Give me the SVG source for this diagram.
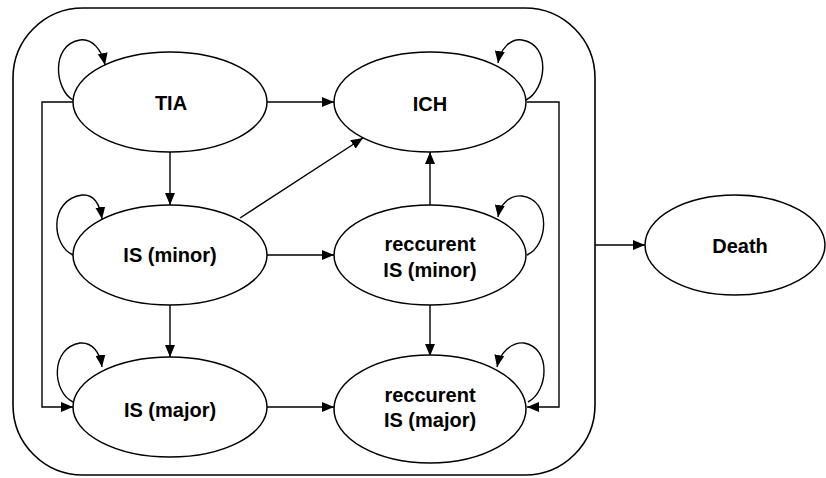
<svg xmlns="http://www.w3.org/2000/svg" width="826" height="478" viewBox="0 0 826 478">
<defs>
<marker id="ah" markerUnits="userSpaceOnUse" markerWidth="12" markerHeight="10" viewBox="0 0 12 10" refX="12" refY="5" orient="auto">
<path d="M0,0 L12,5 L0,10 Z" fill="#000"/>
</marker>
<style>
.n{fill:#fff;stroke:#000;stroke-width:1.5}
.t{font-family:"Liberation Sans",Arial,sans-serif;font-size:20px;font-weight:bold;text-anchor:middle;fill:#000}
.c{fill:none;stroke:#000;stroke-width:1.4}
.a{marker-end:url(#ah)}
</style>
</defs>
<rect x="13" y="8" width="582" height="467" rx="70" ry="70" fill="none" stroke="#000" stroke-width="1.6"/>
<g id="connectors">
<line class="c a" x1="267" y1="102" x2="334" y2="102"/>
<line class="c a" x1="170" y1="152" x2="170" y2="205"/>
<line class="c a" x1="170" y1="305" x2="170" y2="357"/>
<line class="c a" x1="267" y1="255" x2="334" y2="255"/>
<line class="c a" x1="267" y1="407" x2="334" y2="407"/>
<line class="c a" x1="240" y1="218" x2="363" y2="138"/>
<line class="c a" x1="430" y1="205" x2="430" y2="152"/>
<line class="c a" x1="430" y1="305" x2="430" y2="356"/>
<polyline class="c a" points="73,102 42,102 42,407 73,407"/>
<polyline class="c a" points="527,102 559,102 559,407 527,407"/>
<line class="c a" x1="595" y1="245" x2="645" y2="245"/>
<path class="c a" d="M73,100 C55,90 50,45 80,40 C92,38 102,50 105,65"/>
<path class="c a" d="M73,255 C52,246 48,200 82,195 C94,194 100,205 102,219"/>
<path class="c a" d="M73,402 C52,392 50,348 80,343 C92,342 100,352 102,367"/>
<path class="c a" d="M526,100 C546,90 552,45 522,40 C510,38 500,50 498,63"/>
<path class="c a" d="M527,255 C548,246 552,200 522,196 C510,195 500,204 498,217"/>
<path class="c a" d="M528,402 C548,392 552,348 524,343 C512,342 500,352 497,367"/>
</g>
<g id="TIA"><ellipse class="n" cx="170" cy="102" rx="97" ry="50"/><text class="t" x="171" y="110">TIA</text></g>
<g id="ICH"><ellipse class="n" cx="430" cy="102" rx="96" ry="50"/><text class="t" x="430" y="111">ICH</text></g>
<g id="ISminor"><ellipse class="n" cx="170" cy="255" rx="97" ry="50"/><text class="t" x="170" y="262">IS (minor)</text></g>
<g id="rISminor"><ellipse class="n" cx="430" cy="255" rx="96" ry="50"/><text class="t" x="430" y="251">reccurent</text><text class="t" x="430" y="277">IS (minor)</text></g>
<g id="ISmajor"><ellipse class="n" cx="170" cy="407" rx="97" ry="50"/><text class="t" x="170" y="417">IS (major)</text></g>
<g id="rISmajor"><ellipse class="n" cx="430" cy="409" rx="96" ry="54"/><text class="t" x="430" y="402">reccurent</text><text class="t" x="430" y="427">IS (major)</text></g>
<g id="Death"><ellipse class="n" cx="735" cy="245" rx="90" ry="50"/><text class="t" x="740" y="253">Death</text></g>
</svg>
